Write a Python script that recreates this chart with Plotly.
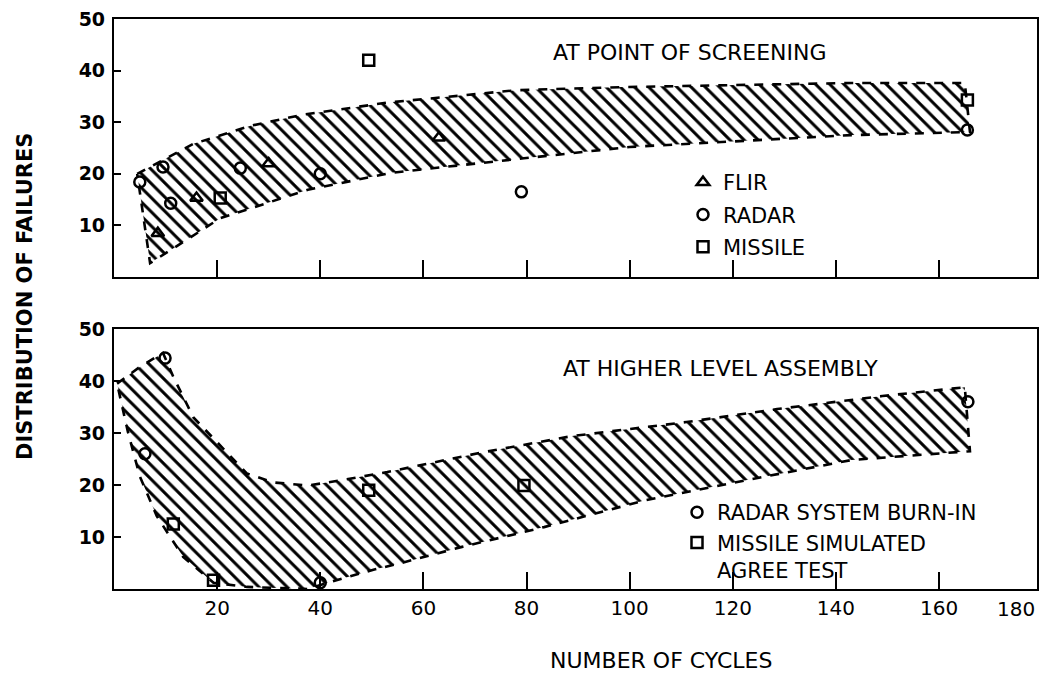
import plotly.graph_objects as go

# ---------------- data ----------------
# Top panel: band "AT POINT OF SCREENING"
top_upper_x = [4.5, 15.4, 26.5, 36.3, 53, 78, 98.6, 119.5, 143, 165]
top_upper_y = [20, 25.8, 29.3, 31.4, 33.8, 36.2, 36.8, 37.2, 37.6, 37.6]
top_lower_x = [7, 13, 20.6, 37.6, 53.8, 79.5, 100, 119.5, 143, 166]
top_lower_y = [2.7, 6.5, 11.4, 16.9, 20.2, 23.0, 25.2, 26.2, 27.5, 28.1]

flir_x = [8.5, 16, 30, 63]
flir_y = [8.5, 15.3, 22.0, 27.0]
radar_x = [5, 9.5, 11, 24.5, 40, 79, 165.5]
radar_y = [18.4, 21.3, 14.3, 21.1, 20.0, 16.5, 28.5]
missile_x = [49.4, 20.6, 165.5]
missile_y = [42.0, 15.3, 34.3]

# Bottom panel: band "AT HIGHER LEVEL ASSEMBLY"
bot_upper_x = [0.6, 5, 9.5, 11.5, 15.4, 22, 25.8, 30.9, 37.6, 44, 53, 71.6, 88.8, 111, 128.6, 149, 165]
bot_upper_y = [39.5, 42.7, 45.4, 40.8, 33.0, 26.1, 22.2, 20.5, 19.9, 20.9, 22.5, 26.3, 29.4, 32.1, 34.6, 37.1, 38.8]
bot_lower_x = [0.6, 2.7, 5, 8.3, 13.4, 19.3, 25.8, 37.6, 41.4, 50.3, 55.7, 67.5, 83.4, 103.2, 123, 143, 166]
bot_lower_y = [39.5, 30.2, 21.7, 14.0, 6.2, 1.2, 0.4, 0.0, 1.2, 3.7, 5.0, 8.1, 11.9, 17.1, 21.0, 24.8, 26.5]

burnin_x = [9.9, 6, 40, 165.6]
burnin_y = [44.4, 26.0, 1.2, 36.0]
agree_x = [11.5, 19.3, 49.4, 79.5]
agree_y = [12.5, 1.7, 19.0, 19.9]

y_ticks = [10, 20, 30, 40, 50]
x_ticks = [20, 40, 60, 80, 100, 120, 140, 160]
x_last_label = "180"

# ---------------- figure ----------------
W, H = 1042, 676
ML, MR, MT, MB = 114, 5, 19, 87
PW, PH = W - ML - MR, H - MT - MB

def px_x(p):
    return (p - ML) / PW

def px_y(p):
    return (H - MB - p) / PH

FONT = "DejaVu Sans"
fig = go.Figure()

def band(ux, uy, lx, ly, xa, ya):
    xs = list(ux) + list(reversed(lx)) + [ux[0]]
    ys = list(uy) + list(reversed(ly)) + [uy[0]]
    fig.add_trace(go.Scatter(
        x=xs, y=ys, mode="lines", fill="toself",
        fillcolor="white",
        fillpattern=dict(shape="\\", fgcolor="black", bgcolor="white",
                         size=10, solidity=0.3, fillmode="replace"),
        line=dict(color="black", width=2.6, dash="dash"),
        xaxis=xa, yaxis=ya, showlegend=False, hoverinfo="skip"))

band(top_upper_x, top_upper_y, top_lower_x, top_lower_y, "x", "y")
band(bot_upper_x, bot_upper_y, bot_lower_x, bot_lower_y, "x2", "y2")

mk = dict(color="black", size=11, line=dict(color="black", width=2.5))

def pts(x, y, sym, name, xa, ya, leg):
    fig.add_trace(go.Scatter(
        x=x, y=y, mode="markers", name=name,
        marker=dict(symbol=sym, **mk),
        xaxis=xa, yaxis=ya, legend=leg, legendgroup=name))

pts(flir_x, flir_y, "triangle-up-open", "FLIR", "x", "y", "legend")
pts(radar_x, radar_y, "circle-open", "RADAR", "x", "y", "legend")
pts(missile_x, missile_y, "square-open", "MISSILE", "x", "y", "legend")
pts(burnin_x, burnin_y, "circle-open", "RADAR SYSTEM BURN-IN", "x2", "y2", "legend2")
pts(agree_x, agree_y, "square-open", "MISSILE SIMULATED<br>AGREE TEST", "x2", "y2", "legend2")

axis_common = dict(showline=True, linecolor="black", linewidth=2.2, mirror=True,
                   showgrid=False, zeroline=False)
top_dom = [px_y(277), 1.0]
bot_dom = [0.0, px_y(329)]

fig.update_layout(
    width=W, height=H,
    margin=dict(l=ML, r=MR, t=MT, b=MB, autoexpand=False),
    paper_bgcolor="white", plot_bgcolor="white",
    font=dict(family=FONT, color="black", size=19),
    xaxis=dict(domain=[0, 1], range=[0, 179], anchor="y", tickvals=x_ticks,
               showticklabels=False, ticks="inside", ticklen=17, tickwidth=2,
               tickcolor="black", **axis_common),
    yaxis=dict(domain=top_dom, range=[0, 50], anchor="x", tickvals=y_ticks,
               ticks="inside", ticklen=7, tickwidth=2, tickcolor="black",
               ticklabelstandoff=3,
               tickfont=dict(size=19, family=FONT, weight="bold"), **axis_common),
    xaxis2=dict(domain=[0, 1], range=[0, 179], anchor="y2", tickvals=x_ticks,
                ticks="inside", ticklen=17, tickwidth=2, tickcolor="black",
                tickfont=dict(size=20, family=FONT), automargin=False, **axis_common),
    yaxis2=dict(domain=bot_dom, range=[0, 50], anchor="x2", tickvals=y_ticks,
                ticks="inside", ticklen=7, tickwidth=2, tickcolor="black",
                ticklabelstandoff=3,
                tickfont=dict(size=19, family=FONT, weight="bold"), **axis_common),
    legend=dict(x=px_x(683), y=px_y(162), xanchor="left", yanchor="top",
                bgcolor="rgba(0,0,0,0)", font=dict(size=21, family=FONT),
                traceorder="grouped", tracegroupgap=2, itemwidth=30),
    legend2=dict(x=px_x(677), y=px_y(492), xanchor="left", yanchor="top",
                 bgcolor="rgba(0,0,0,0)", font=dict(size=21, family=FONT),
                 traceorder="grouped", tracegroupgap=0, itemwidth=30, valign="top"),
    showlegend=True,
)

ann = [
    dict(text="AT POINT OF SCREENING", x=px_x(690), y=px_y(53), size=22, bold=False, angle=0, xa="center"),
    dict(text="AT HIGHER LEVEL ASSEMBLY", x=px_x(720), y=px_y(368), size=22, bold=False, angle=0, xa="center"),
    dict(text="DISTRIBUTION OF FAILURES", x=px_x(25), y=px_y(297), size=21, bold=True, angle=-90, xa="center"),
    dict(text="NUMBER OF CYCLES", x=px_x(661), y=px_y(660), size=22, bold=False, angle=0, xa="center"),
    dict(text=x_last_label, x=1.0, y=px_y(609), size=20, bold=False, angle=0, xa="right"),
]
for a in ann:
    fig.add_annotation(text=a["text"], x=a["x"], y=a["y"], xref="paper", yref="paper",
                       showarrow=False, textangle=a["angle"], xanchor=a["xa"], yanchor="middle",
                       font=dict(size=a["size"], family=FONT, color="black",
                                 weight="bold" if a["bold"] else "normal"))

fig.write_html("out.html", post_script="document.body.style.margin='0';",
               config={"displayModeBar": False})
